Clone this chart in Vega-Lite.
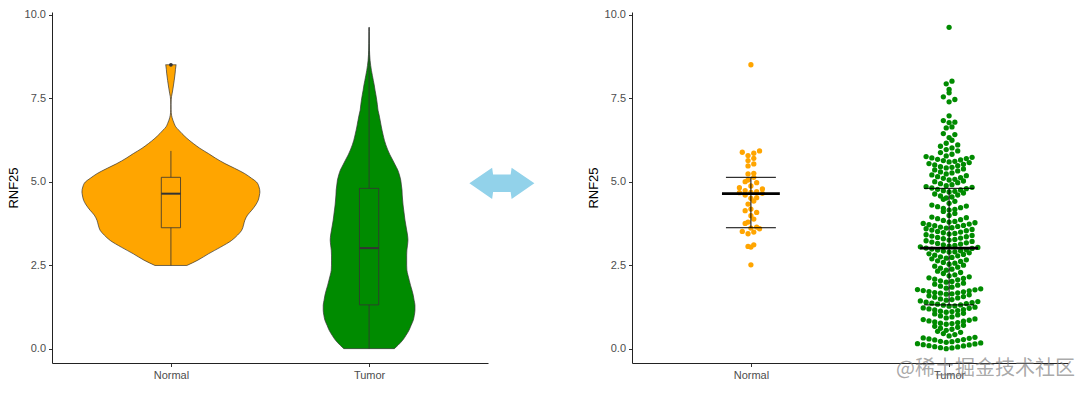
{
  "$schema": "https://vega.github.io/schema/vega-lite/v6.json",
  "padding": {"left": 7, "top": 8, "right": 5, "bottom": 0},
  "bounds": "flush",
  "spacing": 144,
  "title": {"text": "@稀土掘金技术社区", "orient": "bottom", "anchor": "end", "offset": -22, "dx": 7, "fontSize": 20, "font": "Noto Sans CJK SC", "fontWeight": "normal", "color": "rgba(120,120,120,0.65)"},
  "config": {
    "view": {"stroke": null},
    "axis": {"grid": false, "domainColor": "#222222", "domainWidth": 1, "tickColor": "#333333", "tickSize": 3.5, "labelColor": "#4D4D4D", "labelFont": "Liberation Sans", "labelFontSize": 11, "labelPadding": 3, "titleFont": "Liberation Sans", "titleFontSize": 13, "titleFontWeight": "normal", "titleColor": "#000000", "titlePadding": 4}
  },
  "datasets": {
    "points": [
      {"group": "Normal", "value": 5.92}, {"group": "Normal", "value": 5.88}, {"group": "Normal", "value": 5.85}, {"group": "Normal", "value": 5.78}, {"group": "Normal", "value": 5.70}, {"group": "Normal", "value": 5.63}, {"group": "Normal", "value": 5.53}, {"group": "Normal", "value": 5.47}, {"group": "Normal", "value": 5.25}, {"group": "Normal", "value": 5.23}, {"group": "Normal", "value": 5.13}, {"group": "Normal", "value": 5.05}, {"group": "Normal", "value": 5.00}, {"group": "Normal", "value": 4.97}, {"group": "Normal", "value": 4.87}, {"group": "Normal", "value": 4.82}, {"group": "Normal", "value": 4.78}, {"group": "Normal", "value": 4.73}, {"group": "Normal", "value": 4.70}, {"group": "Normal", "value": 4.68}, {"group": "Normal", "value": 4.67}, {"group": "Normal", "value": 4.65}, {"group": "Normal", "value": 4.60}, {"group": "Normal", "value": 4.52}, {"group": "Normal", "value": 4.50}, {"group": "Normal", "value": 4.42}, {"group": "Normal", "value": 4.33}, {"group": "Normal", "value": 4.18}, {"group": "Normal", "value": 4.13}, {"group": "Normal", "value": 4.08}, {"group": "Normal", "value": 3.98}, {"group": "Normal", "value": 3.88}, {"group": "Normal", "value": 3.79}, {"group": "Normal", "value": 3.75}, {"group": "Normal", "value": 3.64}, {"group": "Normal", "value": 3.61}, {"group": "Normal", "value": 3.59}, {"group": "Normal", "value": 3.51}, {"group": "Normal", "value": 3.49}, {"group": "Normal", "value": 3.44}, {"group": "Normal", "value": 3.11}, {"group": "Normal", "value": 3.06}, {"group": "Normal", "value": 3.04}, {"group": "Normal", "value": 2.51}, {"group": "Normal", "value": 8.50},
      {"group": "Tumor", "value": 0.00}, {"group": "Tumor", "value": 0.02}, {"group": "Tumor", "value": 0.03}, {"group": "Tumor", "value": 0.05}, {"group": "Tumor", "value": 0.06}, {"group": "Tumor", "value": 0.08}, {"group": "Tumor", "value": 0.09}, {"group": "Tumor", "value": 0.11}, {"group": "Tumor", "value": 0.12}, {"group": "Tumor", "value": 0.14}, {"group": "Tumor", "value": 0.15}, {"group": "Tumor", "value": 0.17},
      {"group": "Tumor", "value": 0.19}, {"group": "Tumor", "value": 0.21}, {"group": "Tumor", "value": 0.22}, {"group": "Tumor", "value": 0.24}, {"group": "Tumor", "value": 0.26}, {"group": "Tumor", "value": 0.27}, {"group": "Tumor", "value": 0.29}, {"group": "Tumor", "value": 0.31}, {"group": "Tumor", "value": 0.32}, {"group": "Tumor", "value": 0.34},
      {"group": "Tumor", "value": 0.38}, {"group": "Tumor", "value": 0.42}, {"group": "Tumor", "value": 0.45}, {"group": "Tumor", "value": 0.49}, {"group": "Tumor", "value": 0.52},
      {"group": "Tumor", "value": 0.55}, {"group": "Tumor", "value": 0.58}, {"group": "Tumor", "value": 0.61}, {"group": "Tumor", "value": 0.64}, {"group": "Tumor", "value": 0.67}, {"group": "Tumor", "value": 0.70},
      {"group": "Tumor", "value": 0.73}, {"group": "Tumor", "value": 0.75}, {"group": "Tumor", "value": 0.76}, {"group": "Tumor", "value": 0.78}, {"group": "Tumor", "value": 0.80}, {"group": "Tumor", "value": 0.82}, {"group": "Tumor", "value": 0.83}, {"group": "Tumor", "value": 0.85}, {"group": "Tumor", "value": 0.87}, {"group": "Tumor", "value": 0.89},
      {"group": "Tumor", "value": 0.92}, {"group": "Tumor", "value": 0.95}, {"group": "Tumor", "value": 0.98}, {"group": "Tumor", "value": 1.01}, {"group": "Tumor", "value": 1.04}, {"group": "Tumor", "value": 1.06},
      {"group": "Tumor", "value": 1.09}, {"group": "Tumor", "value": 1.11}, {"group": "Tumor", "value": 1.12}, {"group": "Tumor", "value": 1.14}, {"group": "Tumor", "value": 1.16}, {"group": "Tumor", "value": 1.17}, {"group": "Tumor", "value": 1.19}, {"group": "Tumor", "value": 1.21}, {"group": "Tumor", "value": 1.22}, {"group": "Tumor", "value": 1.24},
      {"group": "Tumor", "value": 1.27}, {"group": "Tumor", "value": 1.28}, {"group": "Tumor", "value": 1.30}, {"group": "Tumor", "value": 1.31}, {"group": "Tumor", "value": 1.33}, {"group": "Tumor", "value": 1.35}, {"group": "Tumor", "value": 1.36}, {"group": "Tumor", "value": 1.38}, {"group": "Tumor", "value": 1.39}, {"group": "Tumor", "value": 1.41}, {"group": "Tumor", "value": 1.43},
      {"group": "Tumor", "value": 1.45}, {"group": "Tumor", "value": 1.47}, {"group": "Tumor", "value": 1.49}, {"group": "Tumor", "value": 1.52}, {"group": "Tumor", "value": 1.54}, {"group": "Tumor", "value": 1.56}, {"group": "Tumor", "value": 1.58}, {"group": "Tumor", "value": 1.61},
      {"group": "Tumor", "value": 1.63}, {"group": "Tumor", "value": 1.64}, {"group": "Tumor", "value": 1.66}, {"group": "Tumor", "value": 1.67}, {"group": "Tumor", "value": 1.68}, {"group": "Tumor", "value": 1.70}, {"group": "Tumor", "value": 1.71}, {"group": "Tumor", "value": 1.73}, {"group": "Tumor", "value": 1.74}, {"group": "Tumor", "value": 1.76}, {"group": "Tumor", "value": 1.77}, {"group": "Tumor", "value": 1.79},
      {"group": "Tumor", "value": 1.81}, {"group": "Tumor", "value": 1.84}, {"group": "Tumor", "value": 1.87}, {"group": "Tumor", "value": 1.90}, {"group": "Tumor", "value": 1.93}, {"group": "Tumor", "value": 1.96},
      {"group": "Tumor", "value": 1.99}, {"group": "Tumor", "value": 2.01}, {"group": "Tumor", "value": 2.03}, {"group": "Tumor", "value": 2.06}, {"group": "Tumor", "value": 2.08}, {"group": "Tumor", "value": 2.10}, {"group": "Tumor", "value": 2.12}, {"group": "Tumor", "value": 2.15},
      {"group": "Tumor", "value": 2.18}, {"group": "Tumor", "value": 2.21}, {"group": "Tumor", "value": 2.25}, {"group": "Tumor", "value": 2.28}, {"group": "Tumor", "value": 2.32},
      {"group": "Tumor", "value": 2.35}, {"group": "Tumor", "value": 2.38}, {"group": "Tumor", "value": 2.41}, {"group": "Tumor", "value": 2.44}, {"group": "Tumor", "value": 2.47}, {"group": "Tumor", "value": 2.50},
      {"group": "Tumor", "value": 2.53}, {"group": "Tumor", "value": 2.56}, {"group": "Tumor", "value": 2.58}, {"group": "Tumor", "value": 2.61}, {"group": "Tumor", "value": 2.63}, {"group": "Tumor", "value": 2.66}, {"group": "Tumor", "value": 2.69},
      {"group": "Tumor", "value": 2.71}, {"group": "Tumor", "value": 2.73}, {"group": "Tumor", "value": 2.75}, {"group": "Tumor", "value": 2.78}, {"group": "Tumor", "value": 2.80}, {"group": "Tumor", "value": 2.82}, {"group": "Tumor", "value": 2.84}, {"group": "Tumor", "value": 2.87},
      {"group": "Tumor", "value": 2.89}, {"group": "Tumor", "value": 2.90}, {"group": "Tumor", "value": 2.92}, {"group": "Tumor", "value": 2.93}, {"group": "Tumor", "value": 2.95}, {"group": "Tumor", "value": 2.96}, {"group": "Tumor", "value": 2.98}, {"group": "Tumor", "value": 3.00}, {"group": "Tumor", "value": 3.01}, {"group": "Tumor", "value": 3.03}, {"group": "Tumor", "value": 3.05},
      {"group": "Tumor", "value": 3.07}, {"group": "Tumor", "value": 3.09}, {"group": "Tumor", "value": 3.11}, {"group": "Tumor", "value": 3.13}, {"group": "Tumor", "value": 3.15}, {"group": "Tumor", "value": 3.17}, {"group": "Tumor", "value": 3.19}, {"group": "Tumor", "value": 3.21}, {"group": "Tumor", "value": 3.23},
      {"group": "Tumor", "value": 3.25}, {"group": "Tumor", "value": 3.27}, {"group": "Tumor", "value": 3.29}, {"group": "Tumor", "value": 3.31}, {"group": "Tumor", "value": 3.33}, {"group": "Tumor", "value": 3.35}, {"group": "Tumor", "value": 3.37}, {"group": "Tumor", "value": 3.39}, {"group": "Tumor", "value": 3.41},
      {"group": "Tumor", "value": 3.43}, {"group": "Tumor", "value": 3.45}, {"group": "Tumor", "value": 3.47}, {"group": "Tumor", "value": 3.49}, {"group": "Tumor", "value": 3.51}, {"group": "Tumor", "value": 3.53}, {"group": "Tumor", "value": 3.55}, {"group": "Tumor", "value": 3.57}, {"group": "Tumor", "value": 3.59},
      {"group": "Tumor", "value": 3.61}, {"group": "Tumor", "value": 3.62}, {"group": "Tumor", "value": 3.64}, {"group": "Tumor", "value": 3.66}, {"group": "Tumor", "value": 3.68}, {"group": "Tumor", "value": 3.69}, {"group": "Tumor", "value": 3.71}, {"group": "Tumor", "value": 3.73}, {"group": "Tumor", "value": 3.75}, {"group": "Tumor", "value": 3.77},
      {"group": "Tumor", "value": 3.79}, {"group": "Tumor", "value": 3.81}, {"group": "Tumor", "value": 3.84}, {"group": "Tumor", "value": 3.86}, {"group": "Tumor", "value": 3.89}, {"group": "Tumor", "value": 3.92}, {"group": "Tumor", "value": 3.94},
      {"group": "Tumor", "value": 3.99}, {"group": "Tumor", "value": 4.05}, {"group": "Tumor", "value": 4.11},
      {"group": "Tumor", "value": 4.15}, {"group": "Tumor", "value": 4.17}, {"group": "Tumor", "value": 4.20}, {"group": "Tumor", "value": 4.22}, {"group": "Tumor", "value": 4.25}, {"group": "Tumor", "value": 4.27}, {"group": "Tumor", "value": 4.30},
      {"group": "Tumor", "value": 4.35}, {"group": "Tumor", "value": 4.41}, {"group": "Tumor", "value": 4.47},
      {"group": "Tumor", "value": 4.51}, {"group": "Tumor", "value": 4.54}, {"group": "Tumor", "value": 4.57}, {"group": "Tumor", "value": 4.60}, {"group": "Tumor", "value": 4.63}, {"group": "Tumor", "value": 4.66},
      {"group": "Tumor", "value": 4.69}, {"group": "Tumor", "value": 4.71}, {"group": "Tumor", "value": 4.73}, {"group": "Tumor", "value": 4.75}, {"group": "Tumor", "value": 4.77}, {"group": "Tumor", "value": 4.79}, {"group": "Tumor", "value": 4.81}, {"group": "Tumor", "value": 4.83}, {"group": "Tumor", "value": 4.85},
      {"group": "Tumor", "value": 4.88}, {"group": "Tumor", "value": 4.91}, {"group": "Tumor", "value": 4.94}, {"group": "Tumor", "value": 4.97}, {"group": "Tumor", "value": 5.00}, {"group": "Tumor", "value": 5.02},
      {"group": "Tumor", "value": 5.05}, {"group": "Tumor", "value": 5.07}, {"group": "Tumor", "value": 5.10}, {"group": "Tumor", "value": 5.12}, {"group": "Tumor", "value": 5.15}, {"group": "Tumor", "value": 5.18}, {"group": "Tumor", "value": 5.20},
      {"group": "Tumor", "value": 5.23}, {"group": "Tumor", "value": 5.26}, {"group": "Tumor", "value": 5.29}, {"group": "Tumor", "value": 5.32}, {"group": "Tumor", "value": 5.35}, {"group": "Tumor", "value": 5.38},
      {"group": "Tumor", "value": 5.41}, {"group": "Tumor", "value": 5.43}, {"group": "Tumor", "value": 5.45}, {"group": "Tumor", "value": 5.48}, {"group": "Tumor", "value": 5.50}, {"group": "Tumor", "value": 5.52}, {"group": "Tumor", "value": 5.54}, {"group": "Tumor", "value": 5.57},
      {"group": "Tumor", "value": 5.59}, {"group": "Tumor", "value": 5.61}, {"group": "Tumor", "value": 5.63}, {"group": "Tumor", "value": 5.65}, {"group": "Tumor", "value": 5.67}, {"group": "Tumor", "value": 5.69}, {"group": "Tumor", "value": 5.71}, {"group": "Tumor", "value": 5.73}, {"group": "Tumor", "value": 5.75},
      {"group": "Tumor", "value": 5.77}, {"group": "Tumor", "value": 5.82}, {"group": "Tumor", "value": 5.87}, {"group": "Tumor", "value": 5.92},
      {"group": "Tumor", "value": 5.96}, {"group": "Tumor", "value": 6.01}, {"group": "Tumor", "value": 6.06}, {"group": "Tumor", "value": 6.10},
      {"group": "Tumor", "value": 6.15}, {"group": "Tumor", "value": 6.24},
      {"group": "Tumor", "value": 6.32}, {"group": "Tumor", "value": 6.41}, {"group": "Tumor", "value": 6.44},
      {"group": "Tumor", "value": 6.61}, {"group": "Tumor", "value": 6.64},
      {"group": "Tumor", "value": 6.77}, {"group": "Tumor", "value": 6.78}, {"group": "Tumor", "value": 6.83},
      {"group": "Tumor", "value": 6.97},
      {"group": "Tumor", "value": 7.39}, {"group": "Tumor", "value": 7.46}, {"group": "Tumor", "value": 7.54},
      {"group": "Tumor", "value": 7.66}, {"group": "Tumor", "value": 7.76}, {"group": "Tumor", "value": 7.93}, {"group": "Tumor", "value": 8.01},
      {"group": "Tumor", "value": 9.62}
    ],
    "violin": [
      {"group": "Normal", "value": 2.49, "density": 0.075}, {"group": "Normal", "value": 2.65, "density": 0.127}, {"group": "Normal", "value": 2.84, "density": 0.177}, {"group": "Normal", "value": 3.04, "density": 0.234}, {"group": "Normal", "value": 3.24, "density": 0.286}, {"group": "Normal", "value": 3.40, "density": 0.314}, {"group": "Normal", "value": 3.54, "density": 0.333}, {"group": "Normal", "value": 3.70, "density": 0.342}, {"group": "Normal", "value": 3.84, "density": 0.348}, {"group": "Normal", "value": 4.00, "density": 0.361}, {"group": "Normal", "value": 4.14, "density": 0.380}, {"group": "Normal", "value": 4.30, "density": 0.399}, {"group": "Normal", "value": 4.44, "density": 0.411}, {"group": "Normal", "value": 4.60, "density": 0.417}, {"group": "Normal", "value": 4.69, "density": 0.419}, {"group": "Normal", "value": 4.84, "density": 0.415}, {"group": "Normal", "value": 4.99, "density": 0.403}, {"group": "Normal", "value": 5.10, "density": 0.380}, {"group": "Normal", "value": 5.24, "density": 0.348}, {"group": "Normal", "value": 5.40, "density": 0.300}, {"group": "Normal", "value": 5.54, "density": 0.255}, {"group": "Normal", "value": 5.70, "density": 0.211}, {"group": "Normal", "value": 5.84, "density": 0.177}, {"group": "Normal", "value": 6.00, "density": 0.136}, {"group": "Normal", "value": 6.14, "density": 0.106}, {"group": "Normal", "value": 6.30, "density": 0.075}, {"group": "Normal", "value": 6.44, "density": 0.052}, {"group": "Normal", "value": 6.54, "density": 0.0375}, {"group": "Normal", "value": 6.64, "density": 0.023}, {"group": "Normal", "value": 6.74, "density": 0.0155}, {"group": "Normal", "value": 6.84, "density": 0.0094}, {"group": "Normal", "value": 6.99, "density": 0.003}, {"group": "Normal", "value": 7.15, "density": 0.001}, {"group": "Normal", "value": 7.30, "density": 0.0007}, {"group": "Normal", "value": 7.45, "density": 0.0014}, {"group": "Normal", "value": 7.55, "density": 0.003}, {"group": "Normal", "value": 7.65, "density": 0.006}, {"group": "Normal", "value": 7.80, "density": 0.010}, {"group": "Normal", "value": 8.03, "density": 0.0155}, {"group": "Normal", "value": 8.25, "density": 0.020}, {"group": "Normal", "value": 8.48, "density": 0.024}, {"group": "Normal", "value": 8.50, "density": 0.025},
      {"group": "Tumor", "value": 0.00, "density": 0.119}, {"group": "Tumor", "value": 0.10, "density": 0.136}, {"group": "Tumor", "value": 0.25, "density": 0.158}, {"group": "Tumor", "value": 0.40, "density": 0.174}, {"group": "Tumor", "value": 0.55, "density": 0.188}, {"group": "Tumor", "value": 0.70, "density": 0.198}, {"group": "Tumor", "value": 0.85, "density": 0.208}, {"group": "Tumor", "value": 1.00, "density": 0.213}, {"group": "Tumor", "value": 1.15, "density": 0.216}, {"group": "Tumor", "value": 1.30, "density": 0.216}, {"group": "Tumor", "value": 1.45, "density": 0.212}, {"group": "Tumor", "value": 1.60, "density": 0.208}, {"group": "Tumor", "value": 1.75, "density": 0.202}, {"group": "Tumor", "value": 1.90, "density": 0.195}, {"group": "Tumor", "value": 2.05, "density": 0.189}, {"group": "Tumor", "value": 2.20, "density": 0.183}, {"group": "Tumor", "value": 2.35, "density": 0.178}, {"group": "Tumor", "value": 2.50, "density": 0.177}, {"group": "Tumor", "value": 2.65, "density": 0.177}, {"group": "Tumor", "value": 2.80, "density": 0.177}, {"group": "Tumor", "value": 2.95, "density": 0.178}, {"group": "Tumor", "value": 3.10, "density": 0.181}, {"group": "Tumor", "value": 3.25, "density": 0.183}, {"group": "Tumor", "value": 3.40, "density": 0.181}, {"group": "Tumor", "value": 3.55, "density": 0.177}, {"group": "Tumor", "value": 3.70, "density": 0.173}, {"group": "Tumor", "value": 3.85, "density": 0.169}, {"group": "Tumor", "value": 4.00, "density": 0.166}, {"group": "Tumor", "value": 4.15, "density": 0.163}, {"group": "Tumor", "value": 4.30, "density": 0.160}, {"group": "Tumor", "value": 4.45, "density": 0.158}, {"group": "Tumor", "value": 4.60, "density": 0.156}, {"group": "Tumor", "value": 4.75, "density": 0.155}, {"group": "Tumor", "value": 4.90, "density": 0.152}, {"group": "Tumor", "value": 5.05, "density": 0.149}, {"group": "Tumor", "value": 5.20, "density": 0.143}, {"group": "Tumor", "value": 5.35, "density": 0.135}, {"group": "Tumor", "value": 5.50, "density": 0.123}, {"group": "Tumor", "value": 5.65, "density": 0.111}, {"group": "Tumor", "value": 5.80, "density": 0.0985}, {"group": "Tumor", "value": 5.95, "density": 0.088}, {"group": "Tumor", "value": 6.10, "density": 0.079}, {"group": "Tumor", "value": 6.24, "density": 0.072}, {"group": "Tumor", "value": 6.40, "density": 0.066}, {"group": "Tumor", "value": 6.54, "density": 0.061}, {"group": "Tumor", "value": 6.70, "density": 0.056}, {"group": "Tumor", "value": 6.84, "density": 0.052}, {"group": "Tumor", "value": 7.00, "density": 0.047}, {"group": "Tumor", "value": 7.14, "density": 0.042}, {"group": "Tumor", "value": 7.30, "density": 0.039}, {"group": "Tumor", "value": 7.44, "density": 0.036}, {"group": "Tumor", "value": 7.60, "density": 0.032}, {"group": "Tumor", "value": 7.74, "density": 0.028}, {"group": "Tumor", "value": 7.90, "density": 0.024}, {"group": "Tumor", "value": 8.03, "density": 0.020}, {"group": "Tumor", "value": 8.18, "density": 0.0155}, {"group": "Tumor", "value": 8.33, "density": 0.011}, {"group": "Tumor", "value": 8.48, "density": 0.0075}, {"group": "Tumor", "value": 8.63, "density": 0.0047}, {"group": "Tumor", "value": 8.80, "density": 0.0028}, {"group": "Tumor", "value": 8.93, "density": 0.0019}, {"group": "Tumor", "value": 9.13, "density": 0.0012}, {"group": "Tumor", "value": 9.33, "density": 0.0007}, {"group": "Tumor", "value": 9.50, "density": 0.0005}, {"group": "Tumor", "value": 9.62, "density": 0.0004}
    ],
    "stats": [
      {"group": "Normal", "lo": 2.49, "q1": 3.62, "med": 4.64, "q3": 5.13, "hi": 5.92},
      {"group": "Tumor", "lo": 0.0, "q1": 1.31, "med": 3.01, "q3": 4.80, "hi": 9.62}
    ],
    "arrow": [
      {"label": "compare"}
    ]
  },
  "hconcat": [
    {
      "width": 436,
      "height": 351,
      "layer": [
        {
          "data": {"name": "violin"},
          "transform": [
            {"calculate": "(datum.group == 'Normal' ? 1 : 2) - datum.density * 1.0714", "as": "xl"},
            {"calculate": "(datum.group == 'Normal' ? 1 : 2) + datum.density * 1.0714", "as": "xr"}
          ],
          "mark": {"type": "area", "orient": "horizontal", "interpolate": "monotone", "stroke": "#333333", "strokeWidth": 0.7, "fillOpacity": 1},
          "encoding": {
            "y": {"field": "value", "type": "quantitative", "scale": {"domain": [-0.43, 10.08], "nice": false, "zero": false}, "axis": {"values": [0, 2.5, 5, 7.5, 10], "format": ".1f", "title": "RNF25"}},
            "x": {"field": "xl", "type": "quantitative", "scale": {"domain": [0.4, 2.6], "nice": false, "zero": false}, "axis": {"values": [1, 2], "labelExpr": "datum.value == 1 ? 'Normal' : 'Tumor'", "title": null}},
            "x2": {"field": "xr"},
            "color": {"field": "group", "type": "nominal", "scale": {"domain": ["Normal", "Tumor"], "range": ["#FFA500", "#008B00"]}, "legend": null}
          }
        },
        {
          "data": {"name": "stats"},
          "transform": [
            {"calculate": "(datum.group == 'Normal' ? 1 : 2)", "as": "c"},
            {"calculate": "datum.c - 0.0485", "as": "bl"},
            {"calculate": "datum.c + 0.0485", "as": "br"}
          ],
          "layer": [
            {"mark": {"type": "rule", "color": "#333333", "strokeWidth": 0.8}, "encoding": {"x": {"field": "c", "type": "quantitative"}, "y": {"field": "lo", "type": "quantitative"}, "y2": {"field": "q1"}}},
            {"mark": {"type": "rule", "color": "#333333", "strokeWidth": 0.8}, "encoding": {"x": {"field": "c", "type": "quantitative"}, "y": {"field": "q3", "type": "quantitative"}, "y2": {"field": "hi"}}},
            {"mark": {"type": "rect", "fill": null, "fillOpacity": 0, "stroke": "#333333", "strokeWidth": 0.8}, "encoding": {"x": {"field": "bl", "type": "quantitative"}, "x2": {"field": "br"}, "y": {"field": "q1", "type": "quantitative"}, "y2": {"field": "q3"}}},
            {"mark": {"type": "rule", "color": "#333333", "strokeWidth": 2}, "encoding": {"x": {"field": "bl", "type": "quantitative"}, "x2": {"field": "br"}, "y": {"field": "med", "type": "quantitative"}}}
          ]
        },
        {
          "data": {"name": "points"},
          "transform": [
            {"filter": "datum.group == 'Normal' && datum.value > 6.5"},
            {"calculate": "(datum.group == 'Normal' ? 1 : 2)", "as": "c"}
          ],
          "mark": {"type": "circle", "size": 14, "color": "#333333", "opacity": 1},
          "encoding": {"x": {"field": "c", "type": "quantitative"}, "y": {"field": "value", "type": "quantitative"}}
        },
        {
          "data": {"name": "arrow"},
          "mark": {"type": "point", "shape": "M -1 0 L -0.3 -0.48 L -0.27 -0.27 L 0.27 -0.27 L 0.3 -0.48 L 1 0 L 0.3 0.48 L 0.27 0.27 L -0.27 0.27 L -0.3 0.48 Z", "size": 4225, "filled": true, "color": "#92D2EA", "opacity": 1, "strokeWidth": 0},
          "encoding": {"x": {"datum": 2.67}, "y": {"datum": 4.95}}
        }
      ]
    },
    {
      "width": 436,
      "height": 351,
      "layer": [
        {
          "data": {"name": "points"},
          "transform": [
            {"calculate": "floor(datum.value / 0.18)", "as": "bin"},
            {"window": [{"op": "row_number", "as": "r"}], "groupby": ["group", "bin"], "sort": [{"field": "value", "order": "ascending"}]},
            {"joinaggregate": [{"op": "count", "as": "n"}], "groupby": ["group", "bin"]},
            {"calculate": "(datum.group == 'Normal' ? 1 : 2) + 0.029 * (datum.r % 2 == 0 ? 1 : -1) * (datum.n % 2 == 1 ? floor(datum.r / 2) : floor((datum.r - 1) / 2) + 0.5)", "as": "xpos"}
          ],
          "mark": {"type": "circle", "size": 28, "opacity": 1},
          "encoding": {
            "y": {"field": "value", "type": "quantitative", "scale": {"domain": [-0.43, 10.08], "nice": false, "zero": false}, "axis": {"values": [0, 2.5, 5, 7.5, 10], "format": ".1f", "title": "RNF25"}},
            "x": {"field": "xpos", "type": "quantitative", "scale": {"domain": [0.4, 2.6], "nice": false, "zero": false}, "axis": {"values": [1, 2], "labelExpr": "datum.value == 1 ? 'Normal' : 'Tumor'", "title": null}},
            "color": {"field": "group", "type": "nominal", "scale": {"domain": ["Normal", "Tumor"], "range": ["#FFA500", "#008B00"]}, "legend": null}
          }
        },
        {
          "data": {"name": "stats"},
          "transform": [
            {"calculate": "(datum.group == 'Normal' ? 1 : 2)", "as": "c"},
            {"calculate": "datum.c - 0.126", "as": "cl"},
            {"calculate": "datum.c + 0.126", "as": "cr"},
            {"calculate": "datum.c - 0.146", "as": "ml"},
            {"calculate": "datum.c + 0.146", "as": "mr"}
          ],
          "layer": [
            {"mark": {"type": "rule", "color": "#000000", "strokeWidth": 1}, "encoding": {"x": {"field": "c", "type": "quantitative"}, "y": {"field": "q1", "type": "quantitative"}, "y2": {"field": "q3"}}},
            {"mark": {"type": "rule", "color": "#000000", "strokeWidth": 1}, "encoding": {"x": {"field": "cl", "type": "quantitative"}, "x2": {"field": "cr"}, "y": {"field": "q1", "type": "quantitative"}}},
            {"mark": {"type": "rule", "color": "#000000", "strokeWidth": 1}, "encoding": {"x": {"field": "cl", "type": "quantitative"}, "x2": {"field": "cr"}, "y": {"field": "q3", "type": "quantitative"}}},
            {"mark": {"type": "rule", "color": "#000000", "strokeWidth": 2.7}, "encoding": {"x": {"field": "ml", "type": "quantitative"}, "x2": {"field": "mr"}, "y": {"field": "med", "type": "quantitative"}}}
          ]
        }
      ]
    }
  ]
}
